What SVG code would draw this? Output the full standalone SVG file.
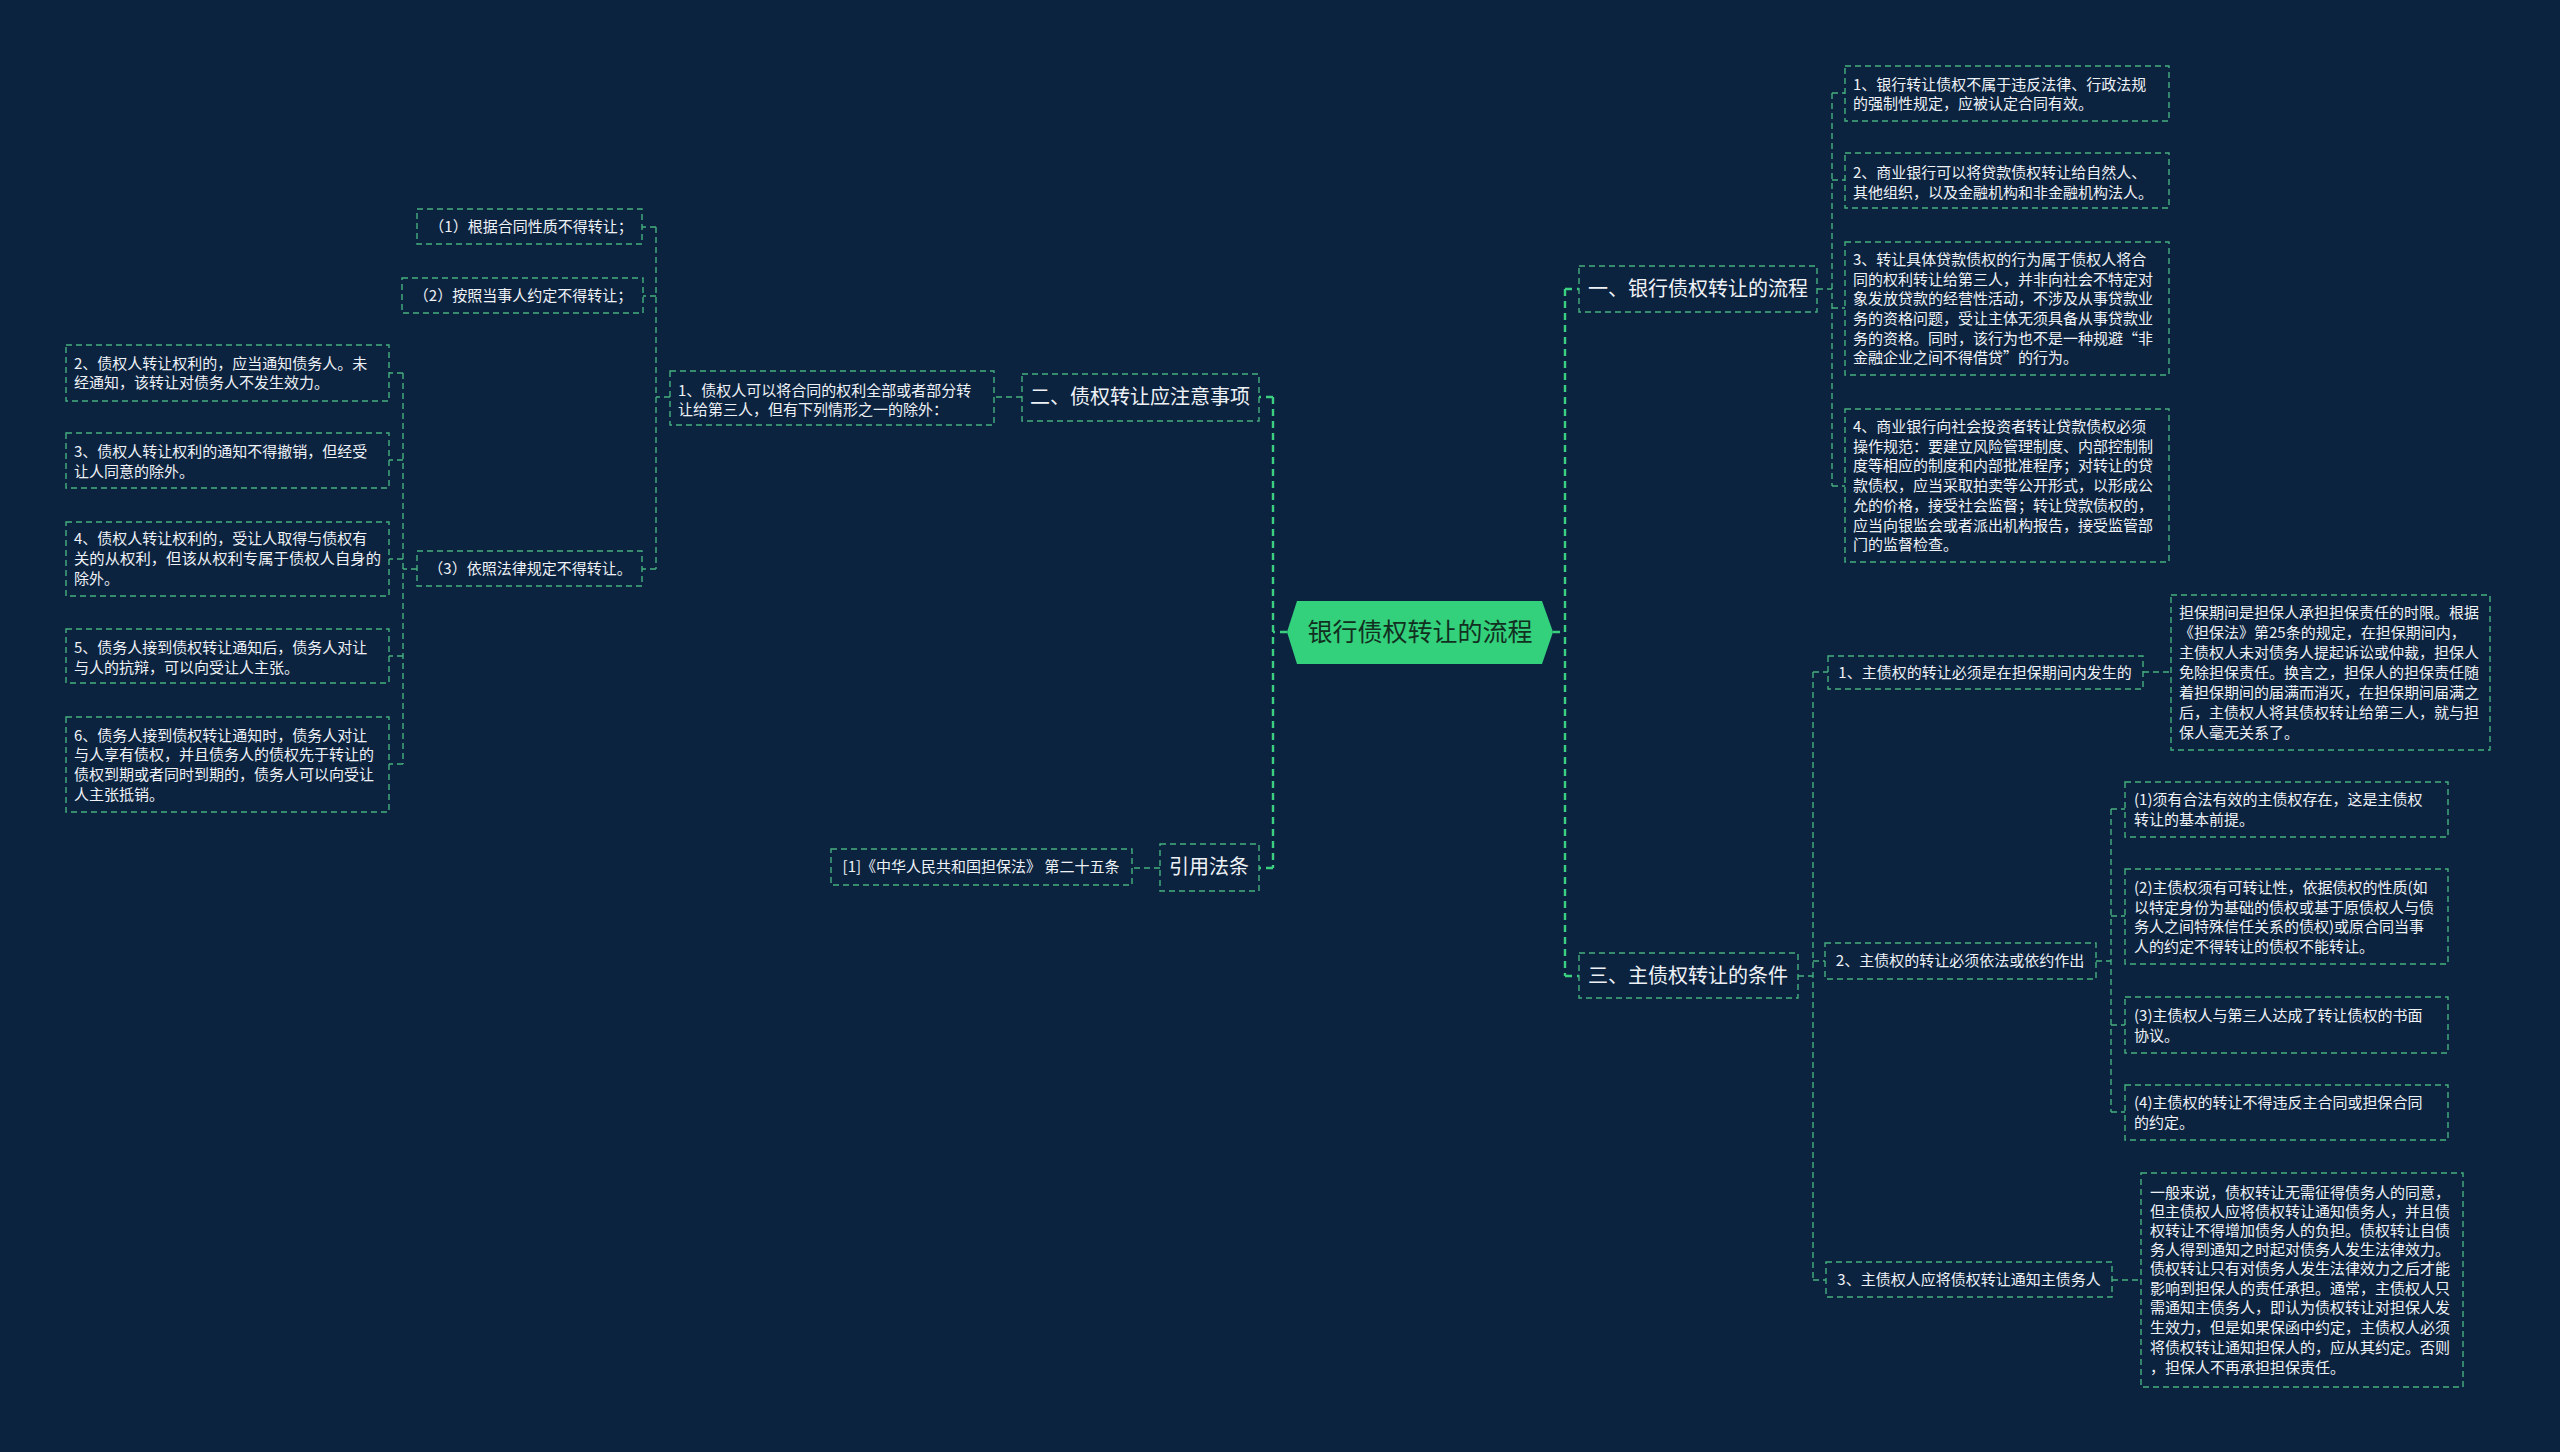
<svg xmlns="http://www.w3.org/2000/svg" width="2560" height="1452" viewBox="0 0 2560 1452">
<style>
.bg{fill:#0c2340}
.box{fill:none;stroke:#45b07e;stroke-width:1.4;stroke-dasharray:6 4}
.ln{fill:none;stroke:#45b07e;stroke-width:1.4;stroke-dasharray:6 4}
.main{fill:none;stroke:#3bd07f;stroke-width:2.4;stroke-dasharray:7 5}
.t{font-family:"Noto Sans CJK SC","Microsoft YaHei",sans-serif;fill:#eef2f6}
.s{font-size:15px}
.m{font-size:20px}
.c{text-anchor:middle}
.ctr{font-family:"Noto Sans CJK SC",sans-serif;font-size:25px;fill:#12301f;text-anchor:middle}
</style>
<rect class="bg" x="0" y="0" width="2560" height="1452"/>

<g id="connectors">
  <!-- center to left -->
  <path class="main" d="M1287 632 H1273 M1273 397 V868 M1273 397 H1259 M1273 868 H1259"/>
  <!-- center to right -->
  <path class="main" d="M1553 632 H1565 M1565 289 V976 M1565 289 H1579 M1565 976 H1579"/>
  <!-- 一 children -->
  <path class="ln" d="M1817 289 H1832 M1832 93 V486 M1832 93 H1845 M1832 180 H1845 M1832 308 H1845 M1832 486 H1845"/>
  <!-- 三 children -->
  <path class="ln" d="M1798 976 H1813 M1813 672 V1280 M1813 672 H1828 M1813 961 H1825 M1813 1280 H1826"/>
  <path class="ln" d="M2143 672 H2171"/>
  <path class="ln" d="M2096 961 H2111 M2111 809 V1112 M2111 809 H2125 M2111 916 H2125 M2111 1025 H2125 M2111 1112 H2125"/>
  <path class="ln" d="M2112 1280 H2141"/>
  <!-- 二 children -->
  <path class="ln" d="M1022 397 H994"/>
  <path class="ln" d="M670 397 H656 M656 227 V569 M656 227 H642 M656 296 H643 M656 569 H642"/>
  <path class="ln" d="M417 569 H403 M403 373 V764 M403 373 H389 M403 460 H389 M403 559 H389 M403 656 H389 M403 764 H389"/>
  <!-- 引用法条 -->
  <path class="ln" d="M1160 868 H1132"/>
</g>

<g id="center">
  <polygon points="1287,632 1297,601 1542,601 1553,632 1542,664 1297,664" fill="#33d17c"/>
  <text class="ctr" x="1420" y="641">银行债权转让的流程</text>
</g>

<g id="n1">
  <rect class="box" x="1579" y="266" width="238" height="46"/>
  <text class="t m c" x="1698" y="296">一、银行债权转让的流程</text>
</g>
<g id="n1-1">
  <rect class="box" x="1845" y="66" width="324" height="55"/>
  <text class="t s" x="1853" y="90">1、银行转让债权不属于违反法律、行政法规<tspan x="1853" y="109">的强制性规定，应被认定合同有效。</tspan></text>
</g>
<g id="n1-2">
  <rect class="box" x="1845" y="153" width="324" height="55"/>
  <text class="t s" x="1853" y="178">2、商业银行可以将贷款债权转让给自然人、<tspan x="1853" y="198">其他组织，以及金融机构和非金融机构法人。</tspan></text>
</g>
<g id="n1-3">
  <rect class="box" x="1845" y="242" width="324" height="133"/>
  <text class="t s" x="1853" y="265">3、转让具体贷款债权的行为属于债权人将合<tspan x="1853" y="285">同的权利转让给第三人，并非向社会不特定对</tspan><tspan x="1853" y="304">象发放贷款的经营性活动，不涉及从事贷款业</tspan><tspan x="1853" y="324">务的资格问题，受让主体无须具备从事贷款业</tspan><tspan x="1853" y="344">务的资格。同时，该行为也不是一种规避“非</tspan><tspan x="1853" y="363">金融企业之间不得借贷”的行为。</tspan></text>
</g>
<g id="n1-4">
  <rect class="box" x="1845" y="409" width="324" height="153"/>
  <text class="t s" x="1853" y="432">4、商业银行向社会投资者转让贷款债权必须<tspan x="1853" y="452">操作规范：要建立风险管理制度、内部控制制</tspan><tspan x="1853" y="471">度等相应的制度和内部批准程序；对转让的贷</tspan><tspan x="1853" y="491">款债权，应当采取拍卖等公开形式，以形成公</tspan><tspan x="1853" y="511">允的价格，接受社会监督；转让贷款债权的，</tspan><tspan x="1853" y="531">应当向银监会或者派出机构报告，接受监管部</tspan><tspan x="1853" y="550">门的监督检查。</tspan></text>
</g>

<g id="n3">
  <rect class="box" x="1579" y="953" width="219" height="45"/>
  <text class="t m c" x="1688" y="983">三、主债权转让的条件</text>
</g>
<g id="n3-1">
  <rect class="box" x="1828" y="656" width="315" height="33"/>
  <text class="t s c" x="1985" y="678">1、主债权的转让必须是在担保期间内发生的</text>
</g>
<g id="n3-1-1">
  <rect class="box" x="2171" y="595" width="319" height="155"/>
  <text class="t s" x="2179" y="618">担保期间是担保人承担担保责任的时限。根据<tspan x="2179" y="638">《担保法》第25条的规定，在担保期间内，</tspan><tspan x="2179" y="658">主债权人未对债务人提起诉讼或仲裁，担保人</tspan><tspan x="2179" y="678">免除担保责任。换言之，担保人的担保责任随</tspan><tspan x="2179" y="698">着担保期间的届满而消灭，在担保期间届满之</tspan><tspan x="2179" y="718">后，主债权人将其债权转让给第三人，就与担</tspan><tspan x="2179" y="738">保人毫无关系了。</tspan></text>
</g>
<g id="n3-2">
  <rect class="box" x="1825" y="943" width="271" height="36"/>
  <text class="t s c" x="1960" y="966">2、主债权的转让必须依法或依约作出</text>
</g>
<g id="n3-2-1">
  <rect class="box" x="2125" y="782" width="323" height="55"/>
  <text class="t s" x="2134" y="805">(1)须有合法有效的主债权存在，这是主债权<tspan x="2134" y="825">转让的基本前提。</tspan></text>
</g>
<g id="n3-2-2">
  <rect class="box" x="2125" y="869" width="323" height="95"/>
  <text class="t s" x="2134" y="893">(2)主债权须有可转让性，依据债权的性质(如<tspan x="2134" y="913">以特定身份为基础的债权或基于原债权人与债</tspan><tspan x="2134" y="932">务人之间特殊信任关系的债权)或原合同当事</tspan><tspan x="2134" y="952">人的约定不得转让的债权不能转让。</tspan></text>
</g>
<g id="n3-2-3">
  <rect class="box" x="2125" y="997" width="323" height="56"/>
  <text class="t s" x="2134" y="1021">(3)主债权人与第三人达成了转让债权的书面<tspan x="2134" y="1041">协议。</tspan></text>
</g>
<g id="n3-2-4">
  <rect class="box" x="2125" y="1085" width="323" height="55"/>
  <text class="t s" x="2134" y="1108">(4)主债权的转让不得违反主合同或担保合同<tspan x="2134" y="1128">的约定。</tspan></text>
</g>
<g id="n3-3">
  <rect class="box" x="1826" y="1262" width="286" height="35"/>
  <text class="t s c" x="1969" y="1285">3、主债权人应将债权转让通知主债务人</text>
</g>
<g id="n3-3-1">
  <rect class="box" x="2141" y="1173" width="322" height="214"/>
  <text class="t s" x="2150" y="1198">一般来说，债权转让无需征得债务人的同意，<tspan x="2150" y="1217">但主债权人应将债权转让通知债务人，并且债</tspan><tspan x="2150" y="1236">权转让不得增加债务人的负担。债权转让自债</tspan><tspan x="2150" y="1255">务人得到通知之时起对债务人发生法律效力。</tspan><tspan x="2150" y="1274">债权转让只有对债务人发生法律效力之后才能</tspan><tspan x="2150" y="1294">影响到担保人的责任承担。通常，主债权人只</tspan><tspan x="2150" y="1313">需通知主债务人，即认为债权转让对担保人发</tspan><tspan x="2150" y="1333">生效力，但是如果保函中约定，主债权人必须</tspan><tspan x="2150" y="1353">将债权转让通知担保人的，应从其约定。否则</tspan><tspan x="2150" y="1373">，担保人不再承担担保责任。</tspan></text>
</g>

<g id="n2">
  <rect class="box" x="1022" y="374" width="237" height="47"/>
  <text class="t m c" x="1140" y="404">二、债权转让应注意事项</text>
</g>
<g id="n2-1">
  <rect class="box" x="670" y="371" width="324" height="54"/>
  <text class="t s" x="678" y="396">1、债权人可以将合同的权利全部或者部分转<tspan x="678" y="415">让给第三人，但有下列情形之一的除外：</tspan></text>
</g>
<g id="n2-1-1">
  <rect class="box" x="417" y="209" width="225" height="35"/>
  <text class="t s c" x="531" y="232">（1）根据合同性质不得转让；</text>
</g>
<g id="n2-1-2">
  <rect class="box" x="402" y="278" width="241" height="35"/>
  <text class="t s c" x="523" y="301">（2）按照当事人约定不得转让；</text>
</g>
<g id="n2-1-3">
  <rect class="box" x="417" y="551" width="225" height="35"/>
  <text class="t s c" x="530" y="574">（3）依照法律规定不得转让。</text>
</g>
<g id="n2-1-3-2">
  <rect class="box" x="66" y="345" width="323" height="56"/>
  <text class="t s" x="74" y="369">2、债权人转让权利的，应当通知债务人。未<tspan x="74" y="388">经通知，该转让对债务人不发生效力。</tspan></text>
</g>
<g id="n2-1-3-3">
  <rect class="box" x="66" y="433" width="323" height="55"/>
  <text class="t s" x="74" y="457">3、债权人转让权利的通知不得撤销，但经受<tspan x="74" y="477">让人同意的除外。</tspan></text>
</g>
<g id="n2-1-3-4">
  <rect class="box" x="66" y="522" width="323" height="74"/>
  <text class="t s" x="74" y="544">4、债权人转让权利的，受让人取得与债权有<tspan x="74" y="564" textLength="307" lengthAdjust="spacingAndGlyphs">关的从权利，但该从权利专属于债权人自身的</tspan><tspan x="74" y="584">除外。</tspan></text>
</g>
<g id="n2-1-3-5">
  <rect class="box" x="66" y="629" width="323" height="54"/>
  <text class="t s" x="74" y="653">5、债务人接到债权转让通知后，债务人对让<tspan x="74" y="673">与人的抗辩，可以向受让人主张。</tspan></text>
</g>
<g id="n2-1-3-6">
  <rect class="box" x="66" y="717" width="323" height="95"/>
  <text class="t s" x="74" y="741">6、债务人接到债权转让通知时，债务人对让<tspan x="74" y="760">与人享有债权，并且债务人的债权先于转让的</tspan><tspan x="74" y="780">债权到期或者同时到期的，债务人可以向受让</tspan><tspan x="74" y="800">人主张抵销。</tspan></text>
</g>

<g id="n4">
  <rect class="box" x="1160" y="844" width="99" height="47"/>
  <text class="t m c" x="1209" y="874">引用法条</text>
</g>
<g id="n4-1">
  <rect class="box" x="831" y="849" width="301" height="36"/>
  <text class="t s c" x="981" y="872">[1]《中华人民共和国担保法》 第二十五条</text>
</g>
</svg>
